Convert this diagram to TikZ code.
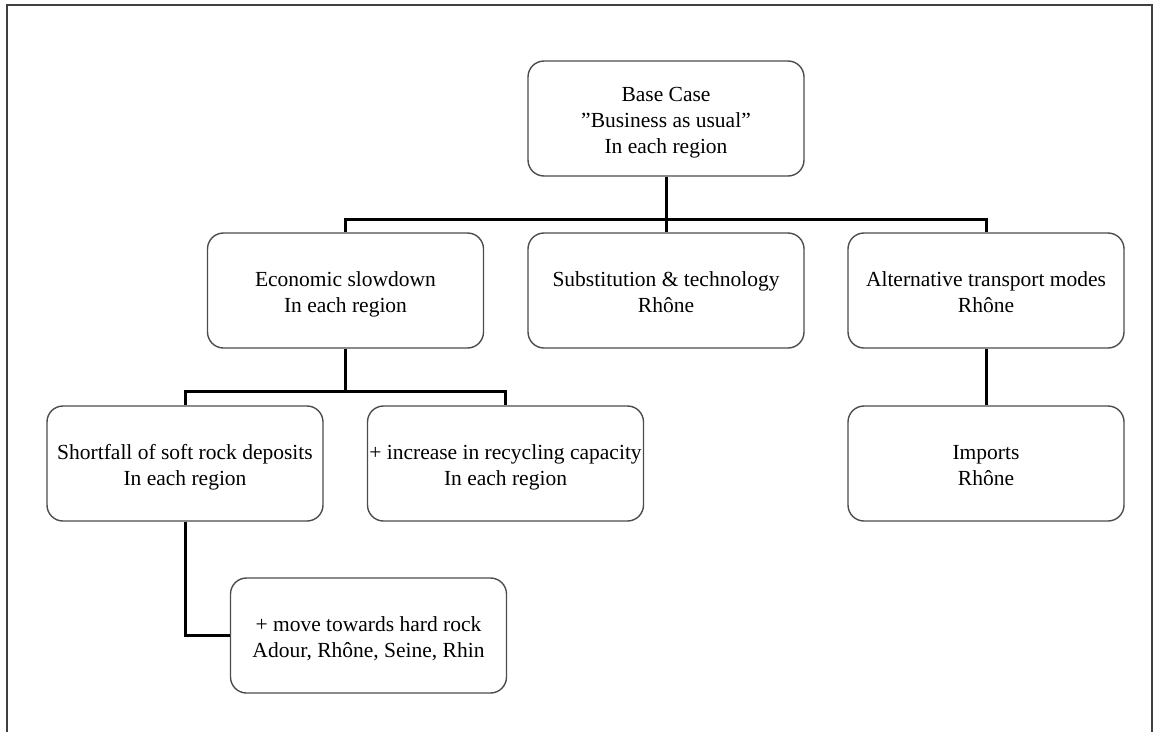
\documentclass[tikz,border=0pt]{standalone}
\usepackage{fontspec}
\setmainfont{Liberation Serif}
\newcommand{\boxtxt}[1]{\raisebox{-3.5pt}[\height][\depth]{\begin{tabular}{@{}c@{}}#1\end{tabular}}}
\begin{document}
\begin{tikzpicture}[x=1pt,y=-1pt,
  box/.style={draw=black!70, line width=1.4pt, rounded corners=16pt,
    minimum width=276pt, minimum height=115pt, inner sep=0pt,
    font=\fontsize{21.5}{26}\selectfont},
  conn/.style={draw=black, line width=3pt},
  frameline/.style={draw=black!75, line width=2pt}]
\useasboundingbox (0,0) rectangle (1166,731);
\draw[frameline] (7,740) -- (7,5) -- (1152,5) -- (1152,740);

\node[box] (base)  at (666,118.5)   {\boxtxt{Base Case\\"Business as usual"\\In each region}};
\node[box] (econ)  at (345.5,290.5) {\boxtxt{Economic slowdown\\In each region}};
\node[box] (subst) at (666,290.5)   {\boxtxt{Substitution \& technology\\Rhône}};
\node[box] (alt)   at (986,290.5)   {\boxtxt{Alternative transport modes\\Rhône}};
\node[box] (short) at (185,463.5)   {\boxtxt{Shortfall of soft rock deposits\\In each region}};
\node[box] (recyc) at (505.5,463.5) {\boxtxt{+ increase in recycling capacity\\In each region}};
\node[box] (imp)   at (986,463.5)   {\boxtxt{Imports\\Rhône}};
\node[box] (move)  at (368.5,635.5) {\boxtxt{+ move towards hard rock\\Adour, Rhône, Seine, Rhin}};

\coordinate (j1) at (666,219);
\coordinate (j2) at (345.5,391);
\draw[conn] (base.south) -- (j1);
\draw[conn] (econ.north) |- (j1) -| (alt.north);
\draw[conn] (j1) -- (subst.north);
\draw[conn] (econ.south) -- (j2);
\draw[conn] (short.north) |- (j2) -| (recyc.north);
\draw[conn] (alt.south) -- (imp.north);
\draw[conn] (short.south) |- (move.west);
\end{tikzpicture}
\end{document}
